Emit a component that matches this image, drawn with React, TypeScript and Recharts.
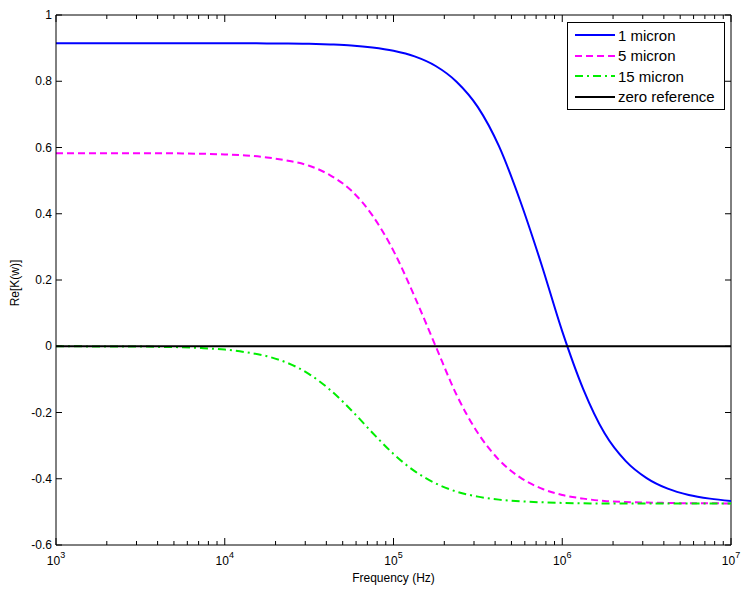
import { LineChart, Line, XAxis, YAxis, Legend, ReferenceLine } from 'recharts';

const FONT = '"Liberation Sans", Arial, Helvetica, sans-serif';

// frequency samples (Hz), 8 per decade
const freqHz = [
    1000, 1334, 1778, 2371, 3162, 4217, 5623, 7499,
    10000, 13335, 17783, 23714, 31623, 42170, 56234, 74989,
    100000, 133352, 177828, 237137, 316228, 421697, 562341, 749894,
    1000000, 1333521, 1778279, 2371374, 3162278, 4216965, 5623413, 7498942,
    10000000,
];

// Re[K(w)]
const micron1 = [
    0.915, 0.915, 0.915, 0.915, 0.915, 0.915, 0.915, 0.915,
    0.915, 0.915, 0.914, 0.914, 0.913, 0.911, 0.908, 0.902,
    0.892, 0.875, 0.846, 0.798, 0.722, 0.604, 0.440, 0.250,
    0.045, -0.130, -0.262, -0.346, -0.398, -0.430, -0.449, -0.460,
    -0.467,
];
const micron5 = [
    0.583, 0.583, 0.583, 0.583, 0.583, 0.583, 0.582, 0.581,
    0.579, 0.576, 0.570, 0.560, 0.545, 0.516, 0.470, 0.395,
    0.288, 0.150, 0.000, -0.148, -0.262, -0.343, -0.396, -0.429,
    -0.449, -0.460, -0.467, -0.470, -0.472, -0.473, -0.474, -0.474,
    -0.475,
];
const micron15 = [
    0.000, 0.000, -0.001, -0.001, -0.001, -0.002, -0.003, -0.006,
    -0.010, -0.018, -0.030, -0.051, -0.084, -0.132, -0.193, -0.261,
    -0.325, -0.377, -0.414, -0.439, -0.454, -0.463, -0.468, -0.471,
    -0.473, -0.474, -0.475, -0.475, -0.475, -0.475, -0.475, -0.475,
    -0.475,
];
const zeroRef = [
    0, 0, 0, 0, 0, 0, 0, 0, 0, 0, 0, 0, 0, 0, 0, 0, 0,
    0, 0, 0, 0, 0, 0, 0, 0, 0, 0, 0, 0, 0, 0, 0, 0,
];

const seriesNames = ['1 micron', '5 micron', '15 micron', 'zero reference'];

const xTicks = [
    1000, 2000, 3000, 4000, 5000, 6000, 7000, 8000, 9000,
    10000, 20000, 30000, 40000, 50000, 60000, 70000, 80000, 90000,
    100000, 200000, 300000, 400000, 500000, 600000, 700000, 800000, 900000,
    1000000, 2000000, 3000000, 4000000, 5000000, 6000000, 7000000, 8000000, 9000000,
    10000000,
];
const yTicks = [-0.6, -0.4, -0.2, 0, 0.2, 0.4, 0.6, 0.8, 1];

const PLOT = { left: 56, right: 731, top: 15, bottom: 545 };

function FreqTick(props: any) {
    const x = props.payload.coordinate;
    const v = props.payload.value;
    const exp = Math.round(Math.log10(v));
    const major = Math.abs(v - Math.pow(10, exp)) < 1e-6 * v;
    const len = major ? 7 : 4;
    return (
        <g>
            <line x1={x} x2={x} y1={PLOT.bottom} y2={PLOT.bottom - len} stroke="#000" />
            <line x1={x} x2={x} y1={PLOT.top} y2={PLOT.top + len} stroke="#000" />
            {major && (
                <text x={x} y={PLOT.bottom + 20} textAnchor="middle" fontSize={12} fontFamily={FONT} fill="#000">
                    10<tspan dy={-7} fontSize={9}>{exp}</tspan>
                </text>
            )}
        </g>
    );
}

function ReTick(props: any) {
    const { y, payload } = props;
    return (
        <g>
            <line x1={PLOT.left} x2={PLOT.left + 6} y1={y} y2={y} stroke="#000" />
            <line x1={PLOT.right} x2={PLOT.right - 6} y1={y} y2={y} stroke="#000" />
            <text x={PLOT.left - 4} y={y} dy={4} textAnchor="end" fontSize={12} fontFamily={FONT} fill="#000">
                {payload.value}
            </text>
        </g>
    );
}

function LegendBox(props: any) {
    const items = ((props.payload ?? []) as any[])
        .slice()
        .sort((a, b) => seriesNames.indexOf(a.value) - seriesNames.indexOf(b.value));
    return (
        <div style={{ border: '1px solid #000', background: '#fff', padding: '2px 6px 2px 7px', fontFamily: FONT, fontSize: 15, color: '#000' }}>
            {items.map(it => (
                <div key={it.value} style={{ display: 'flex', alignItems: 'center', height: 20.5 }}>
                    <svg width={40} height={10}>
                        <line x1={0} x2={40} y1={5} y2={5} stroke={it.color} strokeWidth={2} strokeDasharray={it.payload?.strokeDasharray} />
                    </svg>
                    <span style={{ marginLeft: 3 }}>{it.value}</span>
                </div>
            ))}
        </div>
    );
}

export default function App() {
    const rows = freqHz.map((f, i) => ({
        f, m1: micron1[i], m5: micron5[i], m15: micron15[i], zero: zeroRef[i],
    }));

    return (
        <div style={{ width: 749, height: 595, background: '#fff' }}>
            <style>{'body{margin:0}'}</style>
            <LineChart width={749} height={595} data={rows} margin={{ top: 15, right: 18, bottom: 0, left: 0 }}>
                <XAxis
                    dataKey="f" type="number" scale="log" domain={[1000, 10000000]} allowDataOverflow
                    ticks={xTicks} interval={0} tick={<FreqTick />} tickLine={false} tickSize={0} tickMargin={0}
                    axisLine={{ stroke: '#000' }} height={50}
                    label={() => (
                        <text x={(PLOT.left + PLOT.right) / 2} y={582} textAnchor="middle" fontSize={12} fontFamily={FONT} fill="#000">
                            Frequency (Hz)
                        </text>
                    )}
                />
                <YAxis
                    type="number" domain={[-0.6, 1]} allowDataOverflow ticks={yTicks} interval={0}
                    tick={<ReTick />} tickLine={false} tickSize={0} tickMargin={0}
                    axisLine={{ stroke: '#000' }} width={56}
                    label={() => (
                        <text x={19} y={283} transform="rotate(-90 19 283)" textAnchor="middle" fontSize={12} fontFamily={FONT} fill="#000">
                            Re[K(w)]
                        </text>
                    )}
                />
                <ReferenceLine y={1} stroke="#000" />
                <ReferenceLine x={10000000} stroke="#000" />
                <Line type="monotone" dataKey="m1" name={seriesNames[0]} stroke="#0000ff" strokeWidth={2} dot={false} isAnimationActive={false} />
                <Line type="monotone" dataKey="m5" name={seriesNames[1]} stroke="#ff00ff" strokeWidth={2} strokeDasharray="7 4" dot={false} isAnimationActive={false} />
                <Line type="monotone" dataKey="m15" name={seriesNames[2]} stroke="#00ee00" strokeWidth={2} strokeDasharray="8 4 2 4" dot={false} isAnimationActive={false} />
                <Line type="monotone" dataKey="zero" name={seriesNames[3]} stroke="#000" strokeWidth={2} dot={false} isAnimationActive={false} />
                <Legend
                    layout="vertical" align="center" verticalAlign="middle"
                    content={<LegendBox />}
                    wrapperStyle={{ left: 567, top: 22, width: 158 }}
                />
            </LineChart>
        </div>
    );
}
